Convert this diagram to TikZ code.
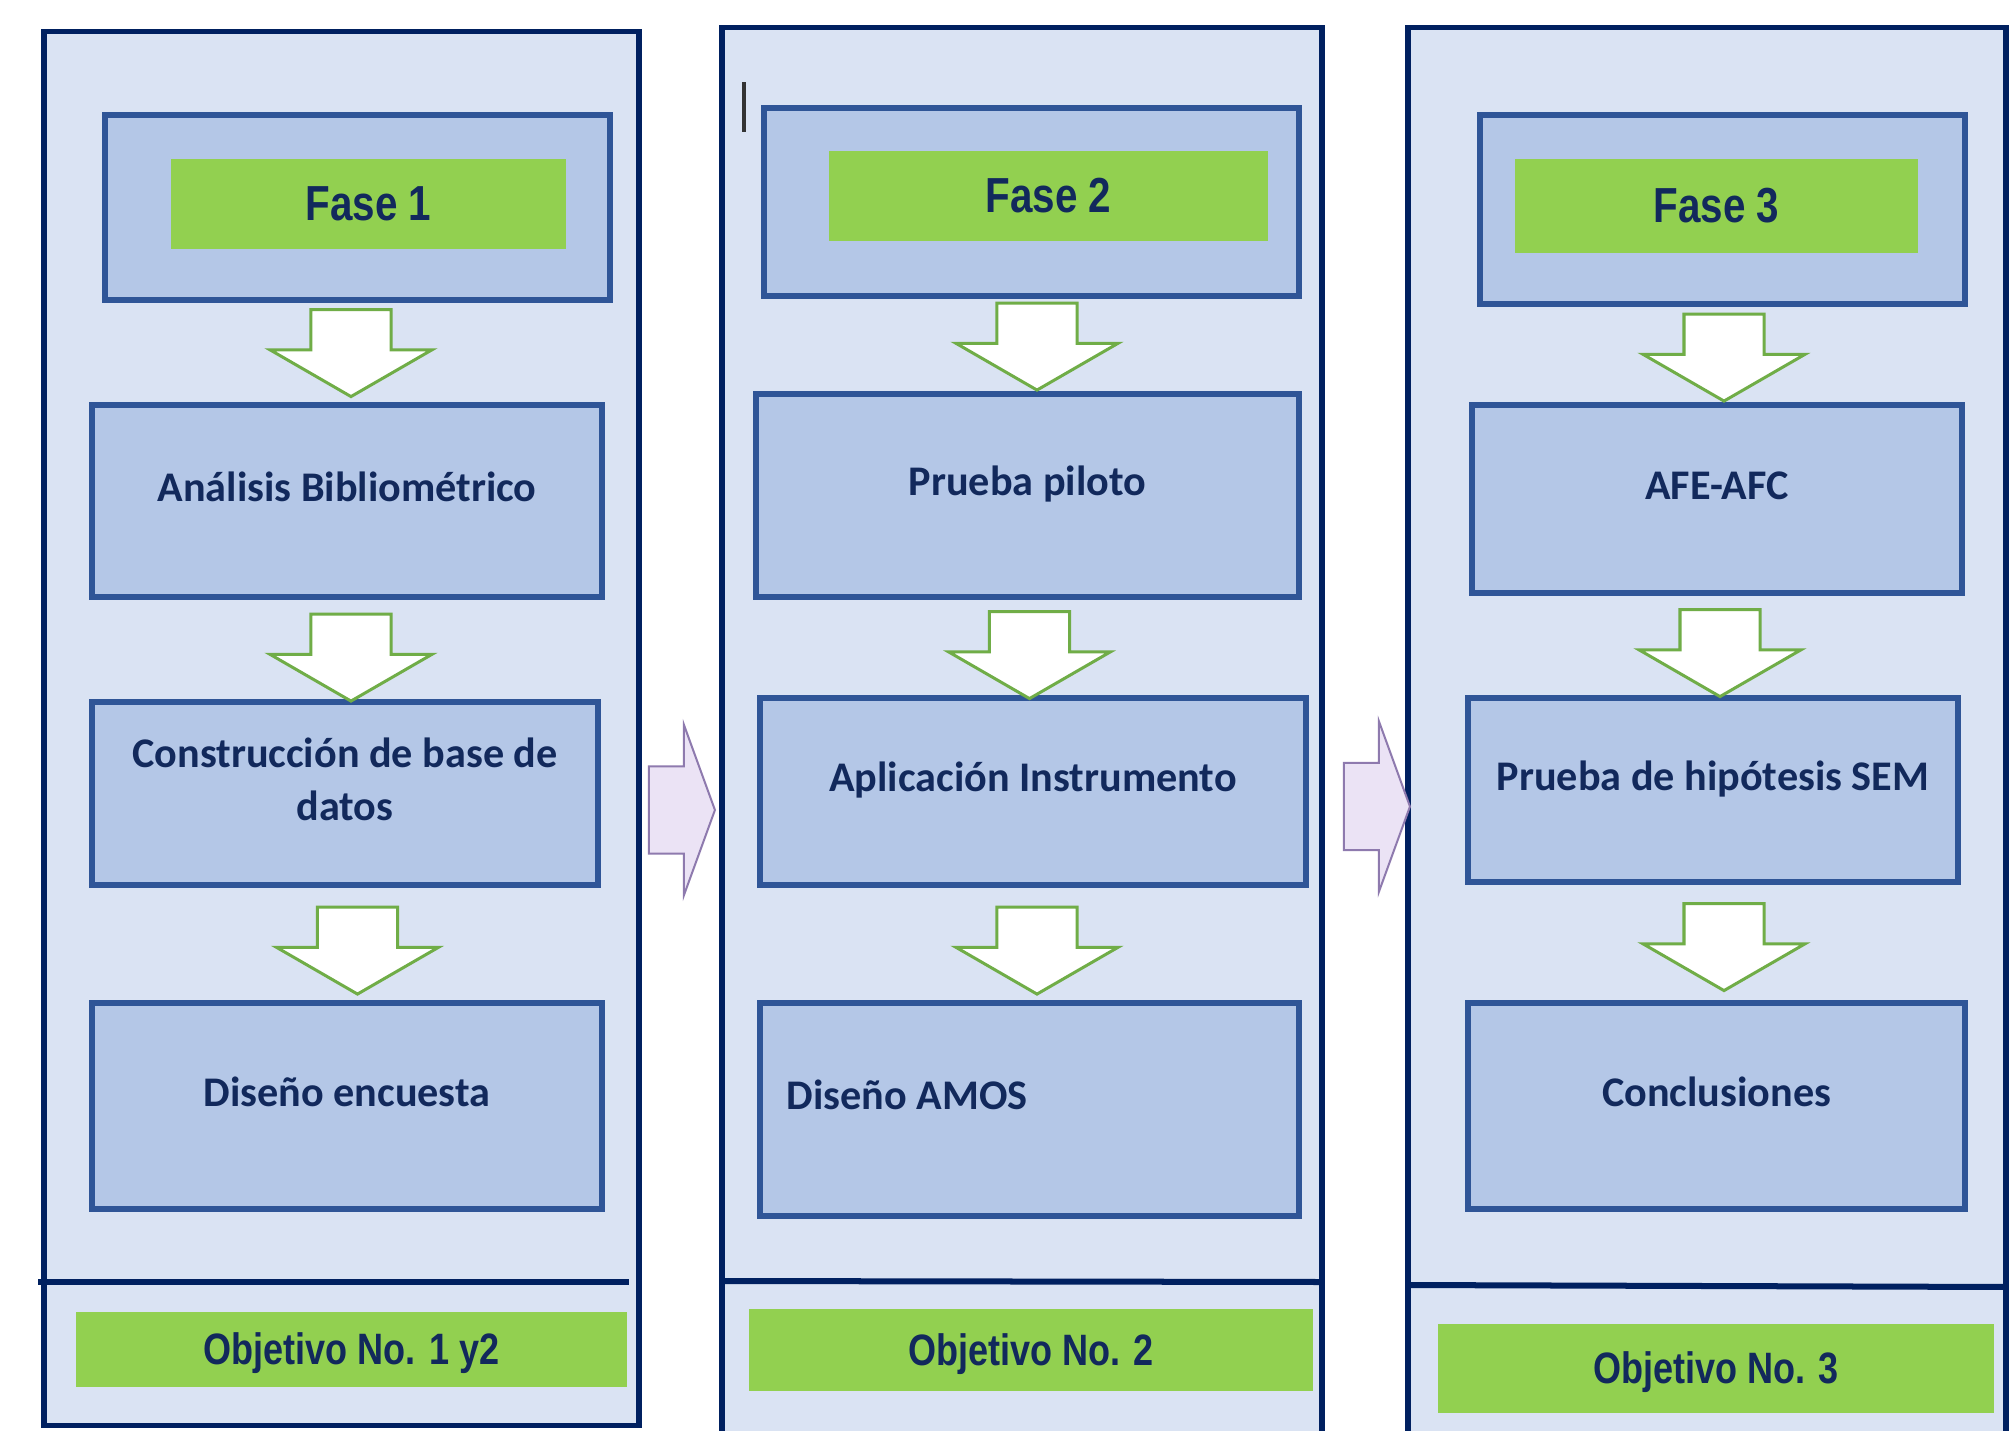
\documentclass[tikz,border=0pt]{standalone}
\usepackage{fontspec}
\setmainfont{Carlito}
\newfontfamily\narrowfont[FakeStretch=0.82]{Liberation Sans}
\usepackage{tikz}
\usetikzlibrary{shapes.arrows}

\definecolor{framefill}{HTML}{DAE3F3}
\definecolor{frameline}{HTML}{002060}
\definecolor{boxfill}{HTML}{B4C7E7}
\definecolor{boxline}{HTML}{2F5597}
\definecolor{taggreen}{HTML}{92D050}
\definecolor{textnavy}{HTML}{12295C}
\definecolor{arrowgreen}{HTML}{70AD47}
\definecolor{lilacfill}{HTML}{EBE3F5}
\definecolor{lilacline}{HTML}{8E7AAE}

\tikzstyle{colframe} = [rectangle, draw=frameline, fill=framefill, line width=0.055cm, inner sep=0pt]
\tikzstyle{stagebox} = [rectangle, draw=boxline, fill=boxfill, line width=0.06cm, inner sep=0pt, text=textnavy, font=\fontsize{12}{15}\selectfont\bfseries, align=center, text height=0.3cm, text depth=0.3cm]
\tikzstyle{phasetag} = [rectangle, fill=taggreen, inner sep=0pt, text=textnavy, font=\narrowfont\fontsize{14}{17}\selectfont\bfseries]
\tikzstyle{objtag} = [rectangle, fill=taggreen, inner sep=0pt, text=textnavy, font=\narrowfont\fontsize{12.5}{15}\selectfont\bfseries, text height=0.3cm, text depth=0pt]
\tikzstyle{downarr} = [single arrow, rotate=-90, draw=arrowgreen, fill=white, line width=0.03cm, inner xsep=0pt, inner ysep=0.385cm, minimum height=0.87cm, minimum width=1.59cm, single arrow head extend=0.41cm, single arrow tip angle=120]
\tikzstyle{nextarr} = [single arrow, draw=lilacline, fill=lilacfill, line width=0.02cm, inner xsep=0pt, inner ysep=0.425cm, minimum height=0.66cm, minimum width=1.69cm, single arrow head extend=0.42cm, single arrow tip angle=140]
\tikzstyle{divider} = [draw=frameline, line width=0.06cm]

\begin{document}
\begin{tikzpicture}[x=0.01cm, y=-0.01cm]
\useasboundingbox (0,0) rectangle (2012,1430);
\clip (0,0) rectangle (2012,1430);

%---------------------------------COLUMNS
\node (col1) [colframe, minimum width=5.95cm, minimum height=13.93cm] at (341.5,728.5) {};
\node (col2) [colframe, minimum width=6.00cm, minimum height=14.08cm] at (1022,732) {};
\node (col3) [colframe, minimum width=5.98cm, minimum height=14.08cm] at (1707,732) {};
\draw [divider] (38,1282) -- (629,1282);
\draw [divider] (col2.west |- 0,1281) -- (col2.east |- 0,1282);
\draw [divider] (col3.west |- 0,1285) -- (col3.east |- 0,1287);
\draw [line width=0.04cm, draw=black!80] (744,82) -- (744,132);

%---------------------------------FASE 1
\node (fase1) [stagebox, minimum width=5.05cm, minimum height=1.85cm] at (357.5,207.5) {};
\node (tag1) [phasetag, minimum width=3.95cm, minimum height=0.90cm] at (368.5,204) {Fase 1};
\node (biblio) [stagebox, minimum width=5.10cm, minimum height=1.92cm] at (347,501) {Análisis Bibliométrico};
\node (basedatos) [stagebox, minimum width=5.06cm, minimum height=1.83cm, text height=, text depth=0.28cm] at (345,793.5) {Construcción de base de\\datos};
\node (encuesta) [stagebox, minimum width=5.10cm, minimum height=2.06cm] at (347,1106) {Diseño encuesta};
\node (obj1) [objtag, minimum width=5.51cm, minimum height=0.75cm] at (351.5,1349.5) {Objetivo No. 1 y2};

%---------------------------------FASE 2
\node (fase2) [stagebox, minimum width=5.35cm, minimum height=1.88cm] at (1031.5,202) {};
\node (tag2) [phasetag, minimum width=4.39cm, minimum height=0.90cm] at (1048.5,196) {Fase 2};
\node (piloto) [stagebox, minimum width=5.43cm, minimum height=2.03cm] at (1027.5,495.5) {Prueba piloto};
\node (aplica) [stagebox, minimum width=5.46cm, minimum height=1.87cm] at (1033,791.5) {Aplicación Instrumento};
\node (amos) [stagebox, minimum width=5.39cm, minimum height=2.13cm, text width=4.85cm, inner xsep=0.27cm, align=flush left] at (1029.5,1109.5) {Diseño AMOS};
\node (obj2) [objtag, minimum width=5.64cm, minimum height=0.82cm] at (1031,1350) {Objetivo No. 2};

%---------------------------------FASE 3
\node (fase3) [stagebox, minimum width=4.85cm, minimum height=1.89cm] at (1722.5,209.5) {};
\node (tag3) [phasetag, minimum width=4.03cm, minimum height=0.94cm] at (1716.5,206) {Fase 3};
\node (afe) [stagebox, minimum width=4.90cm, minimum height=1.88cm] at (1717,499) {AFE-AFC};
\node (sem) [stagebox, minimum width=4.90cm, minimum height=1.84cm] at (1713,790) {Prueba de hipótesis SEM};
\node (conclu) [stagebox, minimum width=4.97cm, minimum height=2.06cm] at (1716.5,1106) {Conclusiones};
\node (obj3) [objtag, minimum width=5.56cm, minimum height=0.89cm] at (1716,1368.5) {Objetivo No. 3};

%---------------------------------ARROWS
\node (d11) [downarr] at (351,341.5) {};
\node (d12) [downarr] at (351,646) {};
\node (d13) [downarr] at (357.5,939) {};
\node (d21) [downarr] at (1037,335) {};
\node (d22) [downarr] at (1029.5,643.5) {};
\node (d23) [downarr] at (1037,939) {};
\node (d31) [downarr] at (1724,346) {};
\node (d32) [downarr] at (1720,641.5) {};
\node (d33) [downarr] at (1724,935.5) {};
\node (next12) [nextarr] at (674,810) {};
\node (next23) [nextarr] at (1369,806.5) {};

\end{tikzpicture}
\end{document}
